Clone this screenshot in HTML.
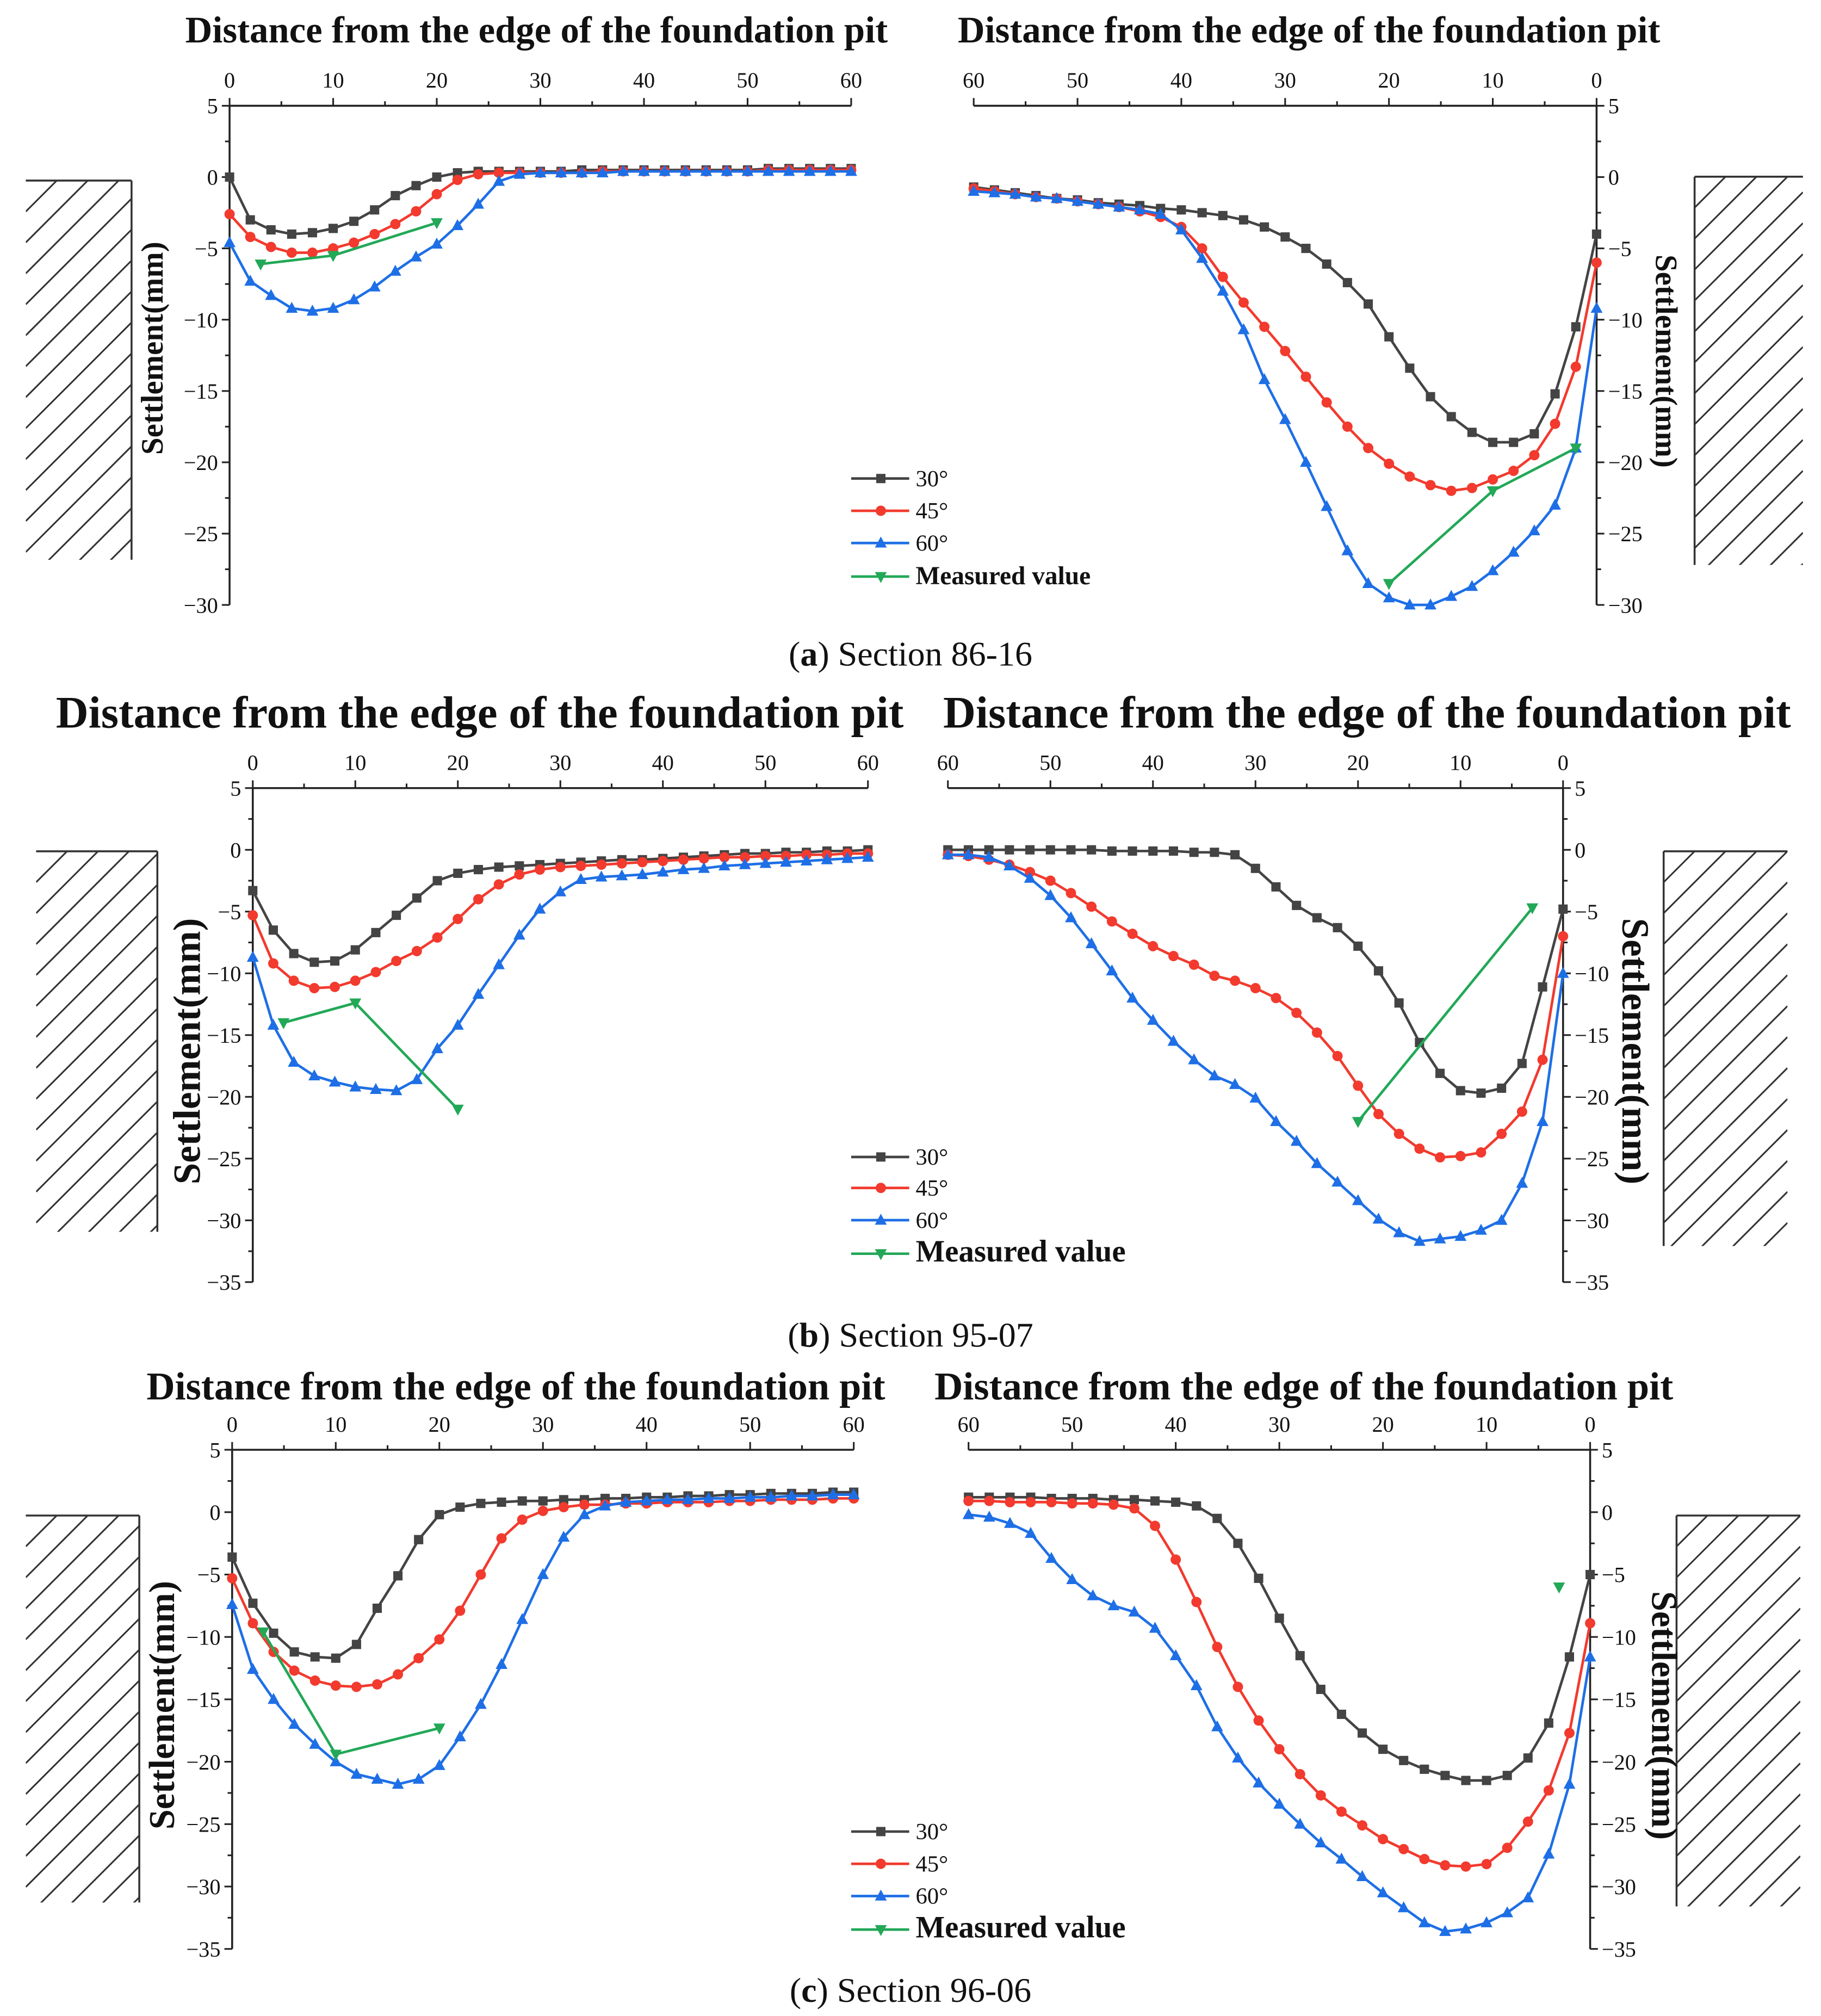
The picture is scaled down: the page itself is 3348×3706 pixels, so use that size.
<!DOCTYPE html>
<html><head><meta charset="utf-8">
<style>
html,body{margin:0;padding:0;background:#fff;}
svg{display:block;}
text{font-family:"Liberation Serif",serif;fill:#111;}
</style></head>
<body>
<svg id="fig" width="3348" height="3706" viewBox="0 0 1412 1563" xmlns="http://www.w3.org/2000/svg"></svg>
<script>
// ---------- data (distance 0..60 step 2) ----------
const dist = [0,2,4,6,8,10,12,14,16,18,20,22,24,26,28,30,32,34,36,38,40,42,44,46,48,50,52,54,56,58,60];
const yTicksA = [5,0,-5,-10,-15,-20,-25,-30];
const yTicksB = [5,0,-5,-10,-15,-20,-25,-30,-35];
const xTicks = [0,10,20,30,40,50,60];

const aL30 = [0,-3,-3.7,-4,-3.9,-3.6,-3.1,-2.3,-1.3,-0.6,0,0.3,0.4,0.4,0.4,0.4,0.4,0.5,0.5,0.5,0.5,0.5,0.5,0.5,0.5,0.5,0.6,0.6,0.6,0.6,0.6];
const aL45 = [-2.6,-4.2,-4.9,-5.3,-5.3,-5.0,-4.6,-4.0,-3.3,-2.4,-1.2,-0.2,0.2,0.3,0.3,0.3,0.3,0.3,0.4,0.4,0.4,0.4,0.4,0.4,0.4,0.4,0.5,0.5,0.5,0.5,0.5];
const aL60 = [-4.6,-7.3,-8.3,-9.2,-9.4,-9.2,-8.6,-7.7,-6.6,-5.6,-4.7,-3.4,-1.9,-0.3,0.2,0.3,0.3,0.3,0.3,0.4,0.4,0.4,0.4,0.4,0.4,0.4,0.4,0.4,0.4,0.4,0.4];
const aLmx = [3,10,20], aLmy = [-6.1,-5.5,-3.2];

const aR30 = [-4.0,-10.5,-15.2,-18,-18.6,-18.6,-17.9,-16.8,-15.4,-13.4,-11.2,-8.9,-7.4,-6.1,-5.0,-4.2,-3.5,-3.0,-2.7,-2.5,-2.3,-2.2,-2.0,-1.9,-1.8,-1.6,-1.5,-1.3,-1.1,-0.9,-0.7];
const aR45 = [-6.0,-13.3,-17.3,-19.5,-20.6,-21.2,-21.8,-22,-21.6,-21,-20.1,-19,-17.5,-15.8,-14,-12.2,-10.5,-8.8,-7.0,-5.0,-3.5,-2.8,-2.4,-2.1,-1.9,-1.7,-1.5,-1.4,-1.2,-1.0,-0.8];
const aR60 = [-9.2,-19.0,-23.0,-24.8,-26.3,-27.6,-28.7,-29.4,-30.0,-30.0,-29.5,-28.5,-26.2,-23.1,-20.0,-17.0,-14.2,-10.7,-8.0,-5.7,-3.7,-2.6,-2.3,-2.1,-1.9,-1.7,-1.5,-1.4,-1.2,-1.1,-1.0];
const aRmx = [20,10,2], aRmy = [-28.5,-22,-19];

const bL30 = [-3.3,-6.5,-8.4,-9.1,-9.0,-8.1,-6.7,-5.3,-3.9,-2.5,-1.9,-1.6,-1.4,-1.3,-1.2,-1.1,-1.0,-0.9,-0.8,-0.8,-0.7,-0.6,-0.5,-0.4,-0.3,-0.3,-0.2,-0.2,-0.1,-0.1,0];
const bL45 = [-5.3,-9.2,-10.6,-11.2,-11.1,-10.6,-9.9,-9.0,-8.2,-7.1,-5.6,-4.0,-2.8,-2.0,-1.6,-1.4,-1.3,-1.2,-1.1,-1.0,-0.9,-0.8,-0.7,-0.6,-0.6,-0.5,-0.5,-0.4,-0.4,-0.3,-0.3];
const bL60 = [-8.7,-14.2,-17.2,-18.3,-18.8,-19.2,-19.4,-19.5,-18.6,-16.1,-14.2,-11.7,-9.3,-6.9,-4.8,-3.4,-2.4,-2.2,-2.1,-2.0,-1.8,-1.6,-1.5,-1.3,-1.2,-1.1,-1.0,-0.9,-0.8,-0.7,-0.6];
const bLmx = [3,10,20], bLmy = [-14,-12.4,-21];

const bR30 = [-4.8,-11.1,-17.3,-19.3,-19.7,-19.5,-18.1,-15.6,-12.4,-9.8,-7.8,-6.3,-5.5,-4.5,-3.0,-1.5,-0.4,-0.2,-0.2,-0.1,-0.1,-0.1,-0.1,0,0,0,0,0,0,0,0];
const bR45 = [-7.0,-17.0,-21.2,-23.0,-24.5,-24.8,-24.9,-24.2,-23.0,-21.4,-19.1,-16.7,-14.8,-13.2,-12.0,-11.2,-10.6,-10.2,-9.3,-8.6,-7.8,-6.8,-5.8,-4.6,-3.5,-2.5,-1.8,-1.2,-0.8,-0.5,-0.4];
const bR60 = [-10.0,-22.0,-27.0,-30.0,-30.8,-31.3,-31.5,-31.7,-31.0,-29.9,-28.4,-26.9,-25.4,-23.6,-22.0,-20.1,-19.0,-18.3,-17.0,-15.5,-13.8,-12.0,-9.8,-7.6,-5.5,-3.7,-2.3,-1.3,-0.6,-0.4,-0.4];
const bRmx = [20,3], bRmy = [-22,-4.7];

const cL30 = [-3.6,-7.3,-9.7,-11.2,-11.6,-11.7,-10.6,-7.7,-5.1,-2.2,-0.2,0.4,0.7,0.8,0.9,0.9,1.0,1.0,1.1,1.1,1.2,1.2,1.3,1.3,1.4,1.4,1.5,1.5,1.5,1.6,1.6];
const cL45 = [-5.3,-8.9,-11.2,-12.7,-13.5,-13.9,-14.0,-13.8,-13.0,-11.7,-10.2,-7.9,-5.0,-2.1,-0.6,0.1,0.4,0.6,0.6,0.7,0.7,0.8,0.8,0.8,0.9,0.9,1.0,1.0,1.0,1.1,1.1];
const cL60 = [-7.4,-12.6,-15.0,-17.0,-18.6,-20.0,-21.0,-21.4,-21.8,-21.4,-20.3,-18.0,-15.4,-12.2,-8.6,-5.0,-2.0,-0.2,0.5,0.8,0.9,1.0,1.0,1.1,1.1,1.2,1.2,1.3,1.3,1.4,1.4];
const cLmx = [3,10,20], cLmy = [-9.6,-19.4,-17.3];

const cR30 = [-5.0,-11.6,-16.9,-19.7,-21.1,-21.5,-21.5,-21.1,-20.6,-19.9,-19.0,-17.7,-16.2,-14.2,-11.5,-8.5,-5.3,-2.5,-0.5,0.5,0.8,0.9,1.0,1.0,1.1,1.1,1.1,1.2,1.2,1.2,1.2];
const cR45 = [-8.9,-17.7,-22.3,-24.8,-26.9,-28.2,-28.4,-28.3,-27.8,-27.0,-26.2,-25.1,-24.0,-22.7,-21.0,-19.0,-16.7,-14.0,-10.8,-7.2,-3.8,-1.1,0.3,0.6,0.7,0.7,0.8,0.8,0.8,0.9,0.9];
const cR60 = [-11.6,-21.8,-27.4,-30.9,-32.1,-32.9,-33.4,-33.6,-32.9,-31.7,-30.5,-29.2,-27.8,-26.5,-25.0,-23.4,-21.7,-19.7,-17.2,-13.9,-11.5,-9.3,-8.0,-7.5,-6.7,-5.4,-3.7,-1.7,-0.9,-0.4,-0.2];
const cRmx = [3], cRmy = [-6];

// ---------- drawing ----------
const NS = "http://www.w3.org/2000/svg";
const svg = document.getElementById('fig');
function mk(tag, attrs, parent){
  const e = document.createElementNS(NS, tag);
  for (const k in attrs) e.setAttribute(k, attrs[k]);
  (parent||svg).appendChild(e);
  return e;
}
function txt(str, x, y, size, opts, parent){
  const t = mk('text', Object.assign({x:x, y:y, 'font-size':size, 'text-anchor':'middle'}, opts||{}), parent);
  t.textContent = str;
  return t;
}
const COL = {k:'#444444', r:'#f23a2e', b:'#1e6fe6', g:'#22a857'};

function marker(g, type, x, y, col){
  let m;
  if (type==='sq') m = mk('rect',{x:x-3.6,y:y-3.6,width:7.2,height:7.2,fill:col},g);
  else if (type==='ci') m = mk('circle',{cx:x,cy:y,r:4,fill:col},g);
  else if (type==='tu') m = mk('polygon',{points:`${x},${y-5} ${x-4.6},${y+3.5} ${x+4.6},${y+3.5}`,fill:col},g);
  else m = mk('polygon',{points:`${x},${y+5} ${x-4.6},${y-3.5} ${x+4.6},${y-3.5}`,fill:col},g);
  return m;
}

function wall(x1, x2, y1, y2, side, name){
  const g = mk('g',{});
  
  
  const id = 'clip'+name;
  const cp = mk('clipPath',{id:id},g);
  mk('rect',{x:x1,y:y1,width:x2-x1,height:y2-y1},cp);
  const hg = mk('g',{'clip-path':`url(#${id})`},g);
  for (let s = y1 - (x2-x1); s < y2 + 40; s += 24){
    mk('line',{x1:x1, y1:s+(x2-x1), x2:x2, y2:s, stroke:'#333','stroke-width':1.3},hg);
  }
  if (side==='left'){
    mk('line',{x1:x1,y1:y1,x2:x2,y2:y1,stroke:'#333','stroke-width':1.5},g);
    mk('line',{x1:x2,y1:y1,x2:x2,y2:y2,stroke:'#333','stroke-width':1.5},g);
  } else {
    mk('line',{x1:x1,y1:y1,x2:x2,y2:y1,stroke:'#333','stroke-width':1.5},g);
    mk('line',{x1:x1,y1:y1,x2:x1,y2:y2,stroke:'#333','stroke-width':1.5},g);
  }
}

function panel(cfg){
  const g = mk('g',{});
  
  
  const X = v => cfg.x0 + (cfg.x60 - cfg.x0) * v / 60;
  const Y = v => cfg.yT + (cfg.yB - cfg.yT) * (5 - v) / (5 - cfg.ymin);
  const axX = cfg.x0;
  const tt = txt('Distance from the edge of the foundation pit', cfg.tx, cfg.ty, cfg.tsize, {'font-weight':'bold'}, g);
  
  
  const xa = mk('g',{},g);
  
  
  mk('line',{x1:Math.min(X(0),X(60)),y1:cfg.yT,x2:Math.max(X(0),X(60)),y2:cfg.yT,stroke:'#222','stroke-width':1.5},xa);
  for (let v=0; v<=60; v+=5){
    const major = v%10===0;
    mk('line',{x1:X(v),y1:cfg.yT,x2:X(v),y2:cfg.yT-(major?6:3.5),stroke:'#222','stroke-width':1.3},xa);
  }
  xTicks.forEach(v=>{
    const t = txt(String(v), X(v), cfg.yT-14, 17, {}, xa);
    
    
  });
  const ya = mk('g',{},g);
  
  
  mk('line',{x1:axX,y1:cfg.yT,x2:axX,y2:cfg.yB,stroke:'#222','stroke-width':1.5},ya);
  const dir = cfg.side==='left' ? -1 : 1;
  const ticks = cfg.ymin===-30 ? yTicksA : yTicksB;
  for (let v=5; v>=cfg.ymin; v-=2.5){
    const major = v%5===0;
    mk('line',{x1:axX,y1:Y(v),x2:axX+dir*(major?6:3.5),y2:Y(v),stroke:'#222','stroke-width':1.3},ya);
  }
  ticks.forEach(v=>{
    const t = txt(String(v).replace('-','\u2212'), axX + dir*9, Y(v)+6, 17, {'text-anchor': cfg.side==='left'?'end':'start'}, ya);
    
    
  });
  const yt = txt('Settlement(mm)', 0, 0, cfg.ysize, {'font-weight':'bold', transform:`translate(${cfg.ytx},${cfg.yty}) rotate(${cfg.side==='left'?-90:90})`}, g);
  
  
  const series = [[cfg.s30,COL.k,'sq','series-30deg'],[cfg.s45,COL.r,'ci','series-45deg'],[cfg.s60,COL.b,'tu','series-60deg']];
  series.forEach(([arr,col,mt,nm])=>{
    const sg = mk('g',{},g);
    
    
    const pts = arr.map((v,i)=>`${X(dist[i]).toFixed(1)},${Y(v).toFixed(1)}`).join(' ');
    mk('polyline',{points:pts,fill:'none',stroke:col,'stroke-width':2,'stroke-linejoin':'round'},sg);
    arr.forEach((v,i)=>{
      const m = marker(sg, mt, X(dist[i]), Y(v), col);
      
      
    });
  });
  const mg = mk('g',{},g);
  
  
  const mpts = cfg.mx.map((v,i)=>`${X(v).toFixed(1)},${Y(cfg.my[i]).toFixed(1)}`).join(' ');
  if (cfg.mx.length>1) mk('polyline',{points:mpts,fill:'none',stroke:COL.g,'stroke-width':2},mg);
  cfg.mx.forEach((v,i)=>{
    const m = marker(mg,'td',X(v),Y(cfg.my[i]),COL.g);
    
    
  });
}

function legend(ys, bigMeasured, name){
  const g = mk('g',{});
  
  
  const items = [['30°',COL.k,'sq'],['45°',COL.r,'ci'],['60°',COL.b,'tu'],['Measured value',COL.g,'td']];
  items.forEach(([lab,col,mt],i)=>{
    const e = mk('g',{},g);
    
    
    mk('line',{x1:660,y1:ys[i],x2:705,y2:ys[i],stroke:col,'stroke-width':2},e);
    marker(e, mt, 683, ys[i], col);
    const big = i===3;
    txt(lab, 710, ys[i]+6, big?(bigMeasured?24:20):18, {'text-anchor':'start','font-weight':big?'bold':'normal'}, e);
  });
}

function caption(letter, rest, y, name){
  const t = mk('text',{x:706,y:y,'font-size':27,'text-anchor':'middle'});
  
  
  const a = mk('tspan',{},t); a.textContent='(';
  const b = mk('tspan',{'font-weight':'bold'},t); b.textContent=letter;
  const c = mk('tspan',{},t); c.textContent=') '+rest;
}

wall(20,102,140,434,'left','wall-a-left');
wall(1314,1398,137,438,'right','wall-a-right');
wall(28,122,660,955,'left','wall-b-left');
wall(1290,1386,660,966,'right','wall-b-right');
wall(20,108,1175,1475,'left','wall-c-left');
wall(1300,1396,1175,1478,'right','wall-c-right');

panel({name:'chart-a-left',side:'left',x0:178,x60:660,yT:82,yB:469,ymin:-30,tx:416,ty:33,tsize:29,ytx:126,yty:270,ysize:24,s30:aL30,s45:aL45,s60:aL60,mx:aLmx,my:aLmy});
panel({name:'chart-a-right',side:'right',x0:1238,x60:755,yT:82,yB:469,ymin:-30,tx:1015,ty:33,tsize:29,ytx:1284,yty:280,ysize:24,s30:aR30,s45:aR45,s60:aR60,mx:aRmx,my:aRmy});
panel({name:'chart-b-left',side:'left',x0:196,x60:673,yT:611,yB:994,ymin:-35,tx:372,ty:564,tsize:35,ytx:155,yty:815,ysize:30,s30:bL30,s45:bL45,s60:bL60,mx:bLmx,my:bLmy});
panel({name:'chart-b-right',side:'right',x0:1212,x60:735,yT:611,yB:994,ymin:-35,tx:1060,ty:564,tsize:35,ytx:1258,yty:815,ysize:30,s30:bR30,s45:bR45,s60:bR60,mx:bRmx,my:bRmy});
panel({name:'chart-c-left',side:'left',x0:180,x60:662,yT:1124,yB:1511,ymin:-35,tx:400,ty:1085,tsize:30.5,ytx:135,yty:1322,ysize:28,s30:cL30,s45:cL45,s60:cL60,mx:cLmx,my:cLmy});
panel({name:'chart-c-right',side:'right',x0:1233,x60:751,yT:1124,yB:1511,ymin:-35,tx:1011,ty:1085,tsize:30.5,ytx:1281,yty:1330,ysize:28,s30:cR30,s45:cR45,s60:cR60,mx:cRmx,my:cRmy});

legend([371,396,421,447], false, 'legend-a');
legend([897,921,946,972], true, 'legend-b');
legend([1420,1445,1470,1496], true, 'legend-c');

caption('a','Section 86-16',516,'caption-a');
caption('b','Section 95-07',1044,'caption-b');
caption('c','Section 96-06',1552,'caption-c');
</script>
</body></html>
